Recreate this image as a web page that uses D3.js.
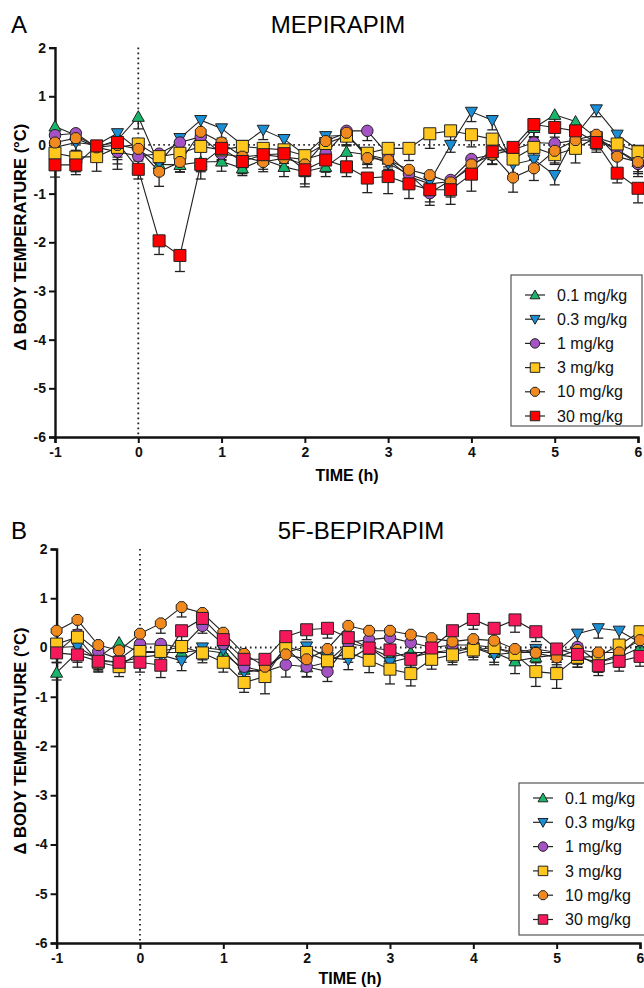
<!DOCTYPE html>
<html>
<head>
<meta charset="utf-8">
<script src="https://cdn.jsdelivr.net/npm/d3@7"></script>
<style>
  body { margin: 0; background: #fff; }
  svg { font-family: "Liberation Sans", Arial, sans-serif; }
</style>
</head>
<body>
<div id="viz"></div>
<script>
var width = 644;
var height = 988;

// time points (h)
var times = [-1, -0.75, -0.5, -0.25, 0, 0.25, 0.5, 0.75, 1, 1.25, 1.5, 1.75, 2, 2.25, 2.5,
  2.75, 3, 3.25, 3.5, 3.75, 4, 4.25, 4.5, 4.75, 5, 5.25, 5.5, 5.75, 6];

var doses = ["0.1 mg/kg", "0.3 mg/kg", "1 mg/kg", "3 mg/kg", "10 mg/kg", "30 mg/kg"];
var xTicks = [-1, 0, 1, 2, 3, 4, 5, 6];
var yTicks = [2, 1, 0, -1, -2, -3, -4, -5, -6];

/* MEPIRAPIM means */
var mepi01 = [0.38, 0.2, -0.05, 0.1, 0.58, -0.4, -0.41, -0.35, -0.34, -0.48, -0.3, -0.45, -0.55, -0.45, -0.14,
  -0.2, -0.3, -0.65, -0.8, -0.75, -0.45, -0.1, -0.15, 0.35, 0.62, 0.48, 0.15, -0.1, -0.35];
var mepi03 = [-0.05, 0.05, 0.0, 0.24, -0.1, -0.37, 0.14, 0.51, 0.34, 0.0, 0.31, 0.12, -0.2, 0.18, 0.2,
  -0.2, -0.38, -0.6, -0.75, 0.0, 0.68, 0.51, -0.4, -0.3, -0.62, 0.2, 0.73, 0.21, -0.1];
var mepi1 = [0.2, 0.24, -0.05, -0.14, -0.23, -0.18, 0.05, 0.17, -0.18, -0.25, -0.2, -0.25, -0.3, -0.17, 0.29,
  0.29, -0.2, -0.6, -0.99, -0.72, -0.29, -0.2, -0.1, 0.05, 0.03, 0.1, 0.1, -0.1, -0.39];
var mepi3 = [-0.17, -0.25, -0.24, -0.05, 0.02, -0.24, -0.17, -0.03, -0.1, -0.03, -0.07, -0.1, -0.22, 0.03, 0.18,
  -0.17, -0.07, -0.07, 0.23, 0.29, 0.21, 0.12, -0.29, -0.05, -0.2, -0.07, 0.15, 0.02, -0.14];
var mepi10 = [0.05, 0.14, -0.05, 0.0, -0.08, -0.55, -0.35, 0.27, 0.05, -0.24, -0.35, -0.27, -0.4, 0.08, 0.25,
  -0.27, -0.31, -0.51, -0.62, -0.77, -0.4, -0.2, -0.67, -0.48, -0.12, 0.1, 0.21, -0.24, -0.35];
var mepi30 = [-0.41, -0.41, -0.02, 0.05, -0.5, -1.97, -2.27, -0.4, -0.07, -0.34, -0.2, -0.18, -0.51, -0.31, -0.45,
  -0.68, -0.65, -0.8, -0.92, -0.92, -0.6, -0.14, -0.05, 0.42, 0.36, 0.29, 0.05, -0.58, -0.89];

/* MEPIRAPIM SEM (drawn below the mean) */
var mepi01Err = [0.2, 0.2, 0.2, 0.25, 0.25, 0.2, 0.15, 0.2, 0.2, 0.15, 0.2, 0.2, 0.25, 0.2, 0.2,
  0.2, 0.2, 0.25, 0.25, 0.2, 0.2, 0.2, 0.25, 0.2, 0.2, 0.2, 0.2, 0.2, 0.2];
var mepi03Err = [0.2, 0.25, 0.2, 0.2, 0.2, 0.25, 0.2, 0.2, 0.2, 0.2, 0.2, 0.2, 0.2, 0.2, 0.2,
  0.2, 0.25, 0.3, 0.25, 0.15, 0.2, 0.2, 0.2, 0.2, 0.2, 0.2, 0.15, 0.2, 0.2];
var mepi1Err = [0.2, 0.2, 0.2, 0.25, 0.2, 0.2, 0.2, 0.2, 0.2, 0.2, 0.2, 0.2, 0.2, 0.2, 0.2,
  0.2, 0.25, 0.3, 0.25, 0.25, 0.2, 0.2, 0.3, 0.2, 0.2, 0.2, 0.2, 0.2, 0.2];
var mepi3Err = [0.35, 0.3, 0.3, 0.45, 0.25, 0.2, 0.2, 0.3, 0.2, 0.2, 0.2, 0.25, 0.3, 0.2, 0.2,
  0.2, 0.3, 0.25, 0.3, 0.2, 0.25, 0.2, 0.3, 0.25, 0.2, 0.3, 0.2, 0.2, 0.2];
var mepi10Err = [0.2, 0.25, 0.25, 0.3, 0.25, 0.3, 0.2, 0.25, 0.3, 0.25, 0.2, 0.2, 0.25, 0.2, 0.25,
  0.2, 0.3, 0.25, 0.25, 0.3, 0.3, 0.2, 0.3, 0.25, 0.25, 0.2, 0.2, 0.3, 0.3];
var mepi30Err = [0.25, 0.2, 0.2, 0.3, 0.2, 0.28, 0.33, 0.3, 0.25, 0.25, 0.2, 0.2, 0.35, 0.25, 0.2,
  0.3, 0.35, 0.3, 0.25, 0.3, 0.35, 0.25, 0.3, 0.25, 0.2, 0.25, 0.2, 0.2, 0.3];

/* 5F-BEPIRAPIM means */
var bepi01 = [-0.51, -0.1, -0.2, 0.1, -0.1, -0.1, -0.1, -0.05, -0.11, -0.45, -0.5, 0.0, -0.4, -0.3, 0.09,
  0.0, -0.2, -0.1, -0.1, -0.05, 0.0, -0.1, -0.28, -0.2, -0.15, -0.2, -0.3, -0.2, 0.0];
var bepi03 = [0.0, 0.02, -0.25, -0.3, -0.2, -0.15, -0.27, 0.0, -0.05, -0.5, -0.45, -0.1, 0.02, -0.2, -0.25,
  0.0, -0.3, -0.2, -0.1, -0.1, 0.0, -0.15, -0.1, -0.03, -0.1, 0.28, 0.39, 0.34, 0.1];
var bepi1 = [-0.1, 0.26, -0.08, -0.24, 0.07, 0.07, 0.0, 0.44, 0.07, -0.39, -0.49, -0.35, -0.39, -0.49, 0.1,
  0.16, 0.2, 0.1, 0.0, 0.05, 0.05, 0.0, -0.1, -0.1, -0.1, 0.01, -0.3, -0.15, 0.22];
var bepi3 = [0.07, 0.21, -0.3, -0.39, -0.08, -0.08, 0.02, -0.11, -0.3, -0.71, -0.59, 0.02, -0.1, -0.27, -0.1,
  -0.26, -0.44, -0.53, -0.24, -0.15, -0.05, 0.0, -0.14, -0.49, -0.53, -0.2, -0.18, 0.05, 0.32];
var bepi10 = [0.34, 0.56, 0.05, -0.06, 0.28, 0.49, 0.82, 0.7, 0.3, -0.13, -0.39, -0.14, -0.24, -0.03, 0.44,
  0.34, 0.34, 0.26, 0.19, 0.12, 0.17, 0.14, -0.03, -0.11, -0.2, -0.05, -0.1, -0.1, 0.15];
var bepi30 = [-0.11, -0.15, -0.28, -0.3, -0.3, -0.36, 0.34, 0.59, 0.16, -0.24, -0.24, 0.22, 0.36, 0.39, 0.2,
  -0.01, -0.05, -0.24, -0.01, 0.34, 0.57, 0.39, 0.56, 0.32, -0.03, -0.14, -0.37, -0.28, -0.18];

/* 5F-BEPIRAPIM SEM */
var bepi01Err = [0.15, 0.2, 0.2, 0.2, 0.2, 0.2, 0.2, 0.2, 0.2, 0.2, 0.2, 0.2, 0.2, 0.2, 0.2,
  0.2, 0.2, 0.2, 0.2, 0.2, 0.2, 0.2, 0.25, 0.2, 0.2, 0.2, 0.2, 0.2, 0.2];
var bepi03Err = [0.2, 0.2, 0.2, 0.2, 0.2, 0.2, 0.2, 0.15, 0.2, 0.2, 0.2, 0.2, 0.2, 0.2, 0.2,
  0.2, 0.2, 0.2, 0.2, 0.2, 0.2, 0.2, 0.2, 0.2, 0.2, 0.2, 0.2, 0.2, 0.2];
var bepi1Err = [0.2, 0.2, 0.2, 0.2, 0.2, 0.2, 0.2, 0.15, 0.2, 0.2, 0.2, 0.25, 0.2, 0.2, 0.2,
  0.2, 0.2, 0.2, 0.2, 0.2, 0.2, 0.2, 0.2, 0.2, 0.2, 0.2, 0.2, 0.2, 0.2];
var bepi3Err = [0.2, 0.2, 0.2, 0.2, 0.2, 0.2, 0.2, 0.2, 0.2, 0.2, 0.35, 0.2, 0.2, 0.2, 0.2,
  0.25, 0.3, 0.25, 0.2, 0.2, 0.2, 0.2, 0.2, 0.3, 0.3, 0.2, 0.2, 0.2, 0.2];
var bepi10Err = [0.2, 0.2, 0.2, 0.2, 0.2, 0.2, 0.2, 0.2, 0.2, 0.2, 0.2, 0.2, 0.2, 0.2, 0.2,
  0.2, 0.2, 0.2, 0.2, 0.2, 0.2, 0.2, 0.2, 0.2, 0.2, 0.2, 0.2, 0.2, 0.2];
var bepi30Err = [0.2, 0.25, 0.2, 0.2, 0.2, 0.25, 0.2, 0.2, 0.2, 0.2, 0.2, 0.2, 0.2, 0.2, 0.2,
  0.2, 0.2, 0.2, 0.2, 0.2, 0.2, 0.25, 0.25, 0.2, 0.2, 0.2, 0.2, 0.2, 0.2];

var colorsA = ["#18b56a", "#1a8fd6", "#a553c4", "#ffc61e", "#f08a1e", "#ff0000"];
var colorsB = ["#18b56a", "#1a8fd6", "#a553c4", "#ffc61e", "#f08a1e", "#f5195b"];
var shapes = ["triUp", "triDown", "circle", "square", "hex", "square"];

var svg = d3.select("#viz").append("svg")
  .attr("width", width)
  .attr("height", height);

/* marker path centred at 0,0 */
function markerPath(shape, s) {
  var h = s / 2;
  if (shape == "triUp") {
    return `M0,${-h * 1.05}L${h * 1.05},${h * 0.8}L${-h * 1.05},${h * 0.8}Z`;
  } else if (shape == "triDown") {
    return `M0,${h * 1.05}L${h * 1.05},${-h * 0.8}L${-h * 1.05},${-h * 0.8}Z`;
  } else if (shape == "square") {
    return `M${-h},${-h}H${h}V${h}H${-h}Z`;
  } else if (shape == "hex") {
    var p = d3.range(8).map(i => {
      var a = Math.PI / 8 + i * Math.PI / 4;
      return [h * 1.02 * Math.cos(a), h * 1.02 * Math.sin(a)];
    });
    return "M" + p.join("L") + "Z";
  }
  return d3.symbol().type(d3.symbolCircle).size(Math.PI * h * h)();
}

function drawPanel(cfg) {
  var x = d3.scaleLinear().domain([-1, 6]).range([cfg.left, cfg.right]);
  var y = d3.scaleLinear().domain([-6, 2]).range([cfg.bottom, cfg.top]);

  var g = svg.append("g");

  /* panel letter + title */
  g.append("text").attr("x", 11).attr("y", cfg.titleY)
    .style("font-size", "24px").text(cfg.letter);
  g.append("text").attr("x", cfg.titleX).attr("y", cfg.titleY)
    .attr("text-anchor", "middle")
    .style("font-size", "24px").text(cfg.title);

  /* reference lines */
  g.append("line")
    .attr("x1", x(0)).attr("x2", x(0))
    .attr("y1", y(2)).attr("y2", y(-6))
    .style("stroke", "#222").style("stroke-width", 1.8)
    .style("stroke-dasharray", "1.6,3.4");
  g.append("line")
    .attr("x1", x(0)).attr("x2", x(6))
    .attr("y1", y(0)).attr("y2", y(0))
    .style("stroke", "#222").style("stroke-width", 1.8)
    .style("stroke-dasharray", "1.6,3.4");

  /* axes */
  var xAxis = d3.axisBottom(x).tickValues(xTicks).tickSize(6).tickPadding(4);
  var yAxis = d3.axisLeft(y).tickValues(yTicks).tickSize(6).tickPadding(3);

  var xg = g.append("g").attr("transform", `translate(0, ${cfg.bottom})`).call(xAxis);
  var yg = g.append("g").attr("transform", `translate(${cfg.left}, 0)`).call(yAxis);
  [xg, yg].forEach(function(a) {
    a.select(".domain").style("stroke", "#111").style("stroke-width", 2.4);
    a.selectAll(".tick line").style("stroke", "#111").style("stroke-width", 2);
    a.selectAll(".tick text")
      .style("font-size", "14px").style("font-weight", "bold").style("fill", "#111");
  });
  // hyphen minus like the original
  xg.selectAll(".tick text").text(d => String(d));
  yg.selectAll(".tick text").text(d => String(d));

  g.append("text")
    .attr("x", cfg.xLabelX)
    .attr("y", cfg.xLabelY)
    .attr("text-anchor", "middle")
    .style("font-size", "16px").style("font-weight", "bold")
    .text("TIME (h)");

  g.append("text")
    .attr("transform", `translate(26, ${(cfg.top + cfg.bottom) / 2 - 5}) rotate(-90)`)
    .attr("text-anchor", "middle")
    .style("font-size", "16.5px").style("font-weight", "bold")
    .text("\u0394 BODY TEMPERATURE (\u00B0C)");

  var series = cfg.means.map(function(m, i) {
    return {
      name: doses[i],
      shape: shapes[i],
      color: cfg.colors[i],
      values: times.map((t, j) => ({ t: t, v: m[j], e: cfg.errs[i][j] }))
    };
  });

  var line = d3.line().x(d => x(d.t)).y(d => y(d.v));

  /* error bars (lower half only) */
  var eg = g.append("g");
  series.forEach(function(s) {
    var bars = eg.selectAll(null).data(s.values).enter().append("g");
    bars.append("line")
      .attr("x1", d => x(d.t)).attr("x2", d => x(d.t))
      .attr("y1", d => y(d.v)).attr("y2", d => y(d.v - d.e))
      .style("stroke", "#222").style("stroke-width", 1.3);
    bars.append("line")
      .attr("x1", d => x(d.t) - 5).attr("x2", d => x(d.t) + 5)
      .attr("y1", d => y(d.v - d.e)).attr("y2", d => y(d.v - d.e))
      .style("stroke", "#222").style("stroke-width", 1.3);
  });

  /* lines */
  g.append("g").selectAll("path")
    .data(series).enter().append("path")
    .attr("d", d => line(d.values))
    .style("fill", "none").style("stroke", "#222").style("stroke-width", 1.1);

  /* markers */
  series.forEach(function(s) {
    g.append("g").selectAll("path")
      .data(s.values).enter().append("path")
      .attr("transform", d => `translate(${x(d.t)}, ${y(d.v)})`)
      .attr("d", markerPath(s.shape, s.shape == "square" ? 12 : 11.5))
      .style("fill", s.color).style("stroke", "#222").style("stroke-width", 1);
  });

  /* legend */
  var lg = g.append("g");
  lg.append("rect")
    .attr("x", cfg.legX).attr("y", cfg.legY)
    .attr("width", cfg.legW).attr("height", cfg.legH)
    .style("fill", "#fff").style("stroke", "#555").style("stroke-width", 1.2);

  var item = lg.selectAll(".legend").data(series).enter().append("g")
    .attr("class", "legend")
    .attr("transform", (d, i) => `translate(${cfg.legX + 24}, ${cfg.legRow0 + i * cfg.legStep})`);
  item.append("line")
    .attr("x1", -10).attr("x2", 10)
    .style("stroke", "#222").style("stroke-width", 1.2);
  item.append("path")
    .attr("d", d => markerPath(d.shape, 9.5))
    .style("fill", d => d.color).style("stroke", "#222").style("stroke-width", 1);
  item.append("text")
    .attr("x", 22).attr("dy", "0.35em")
    .style("font-size", "16px").style("fill", "#111")
    .text(d => d.name);
}

drawPanel({
  letter: "A", title: "MEPIRAPIM", titleX: 338, titleY: 33,
  left: 55, right: 638, top: 47.6, bottom: 437,
  xLabelX: 347, xLabelY: 481,
  means: [mepi01, mepi03, mepi1, mepi3, mepi10, mepi30],
  errs: [mepi01Err, mepi03Err, mepi1Err, mepi3Err, mepi10Err, mepi30Err],
  colors: colorsA,
  legX: 511, legY: 275, legW: 131, legH: 151, legRow0: 295, legStep: 24.2
});

drawPanel({
  letter: "B", title: "5F-BEPIRAPIM", titleX: 361, titleY: 539,
  left: 56.6, right: 640, top: 549, bottom: 943,
  xLabelX: 350, xLabelY: 984,
  means: [bepi01, bepi03, bepi1, bepi3, bepi10, bepi30],
  errs: [bepi01Err, bepi03Err, bepi1Err, bepi3Err, bepi10Err, bepi30Err],
  colors: colorsB,
  legX: 519, legY: 783, legW: 130, legH: 152, legRow0: 798, legStep: 24.3
});
</script>
</body>
</html>
